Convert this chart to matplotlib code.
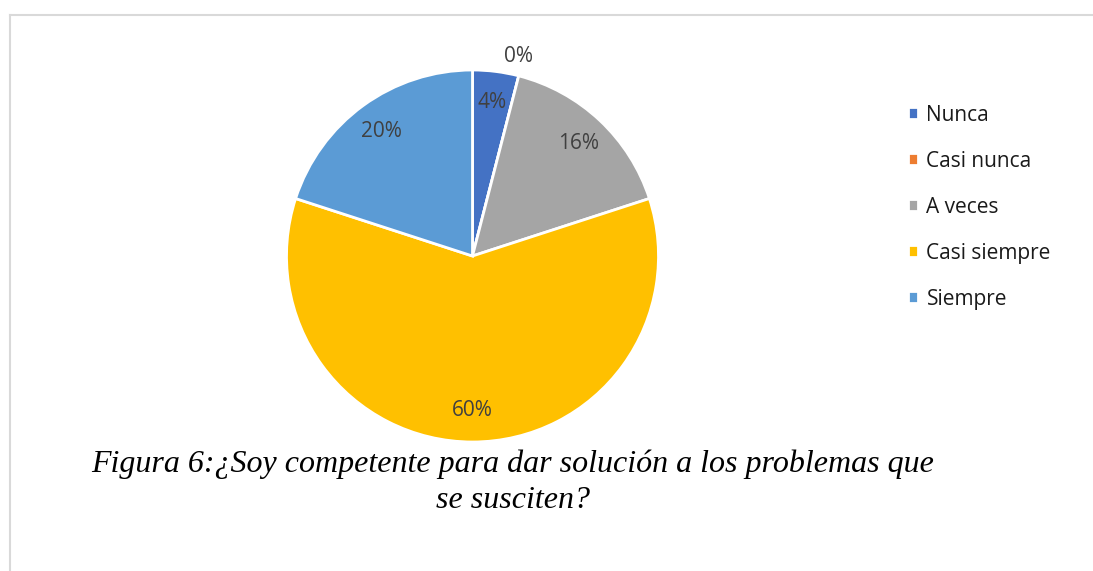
import matplotlib.pyplot as plt
import numpy as np
from matplotlib.lines import Line2D

categorias = ['Nunca', 'Casi nunca', 'A veces', 'Casi siempre', 'Siempre']
valores = [4, 0, 16, 60, 20]
colores = ['#4472C4', '#ED7D31', '#A5A5A5', '#FFC000', '#5B9BD5']
linea1 = u'Figura 6:\u00bfSoy competente para dar soluci\u00f3n a los problemas que'
linea2 = 'se susciten?'

W, H = 1093, 571
fig = plt.figure(figsize=(W / 100, H / 100), dpi=100)

# marco gris del grafico
fig.add_artist(Line2D([10 / W, 1], [1 - 15 / H, 1 - 15 / H], color='#D9D9D9', lw=1.5))
fig.add_artist(Line2D([10 / W, 10 / W], [0, 1 - 15 / H], color='#D9D9D9', lw=1.5))

cx, cy, r = 472.5, 256, 186
ax = fig.add_axes([(cx - r) / W, 1 - (cy + r) / H, 2 * r / W, 2 * r / H])

wedges, texts, autotexts = ax.pie(
    valores, colors=colores, startangle=90, counterclock=False,
    autopct='%1.0f%%', pctdistance=0.83,
    wedgeprops=dict(edgecolor='white', linewidth=2),
    textprops=dict(fontsize=15, color='#404040', family='Open Sans'))

# la etiqueta 0% va fuera del pastel
ang = np.deg2rad(77)
autotexts[1].set_position((1.1 * np.cos(ang), 1.1 * np.sin(ang)))
ax.set_xlim(-1, 1)
ax.set_ylim(-1, 1)
ax.set_aspect('equal')
for t in autotexts:
    t.set_clip_on(False)

leg = fig.legend(wedges, categorias, loc='upper left',
                 bbox_to_anchor=(889 / W, 1 - 86 / H), frameon=False,
                 handlelength=0.5, handleheight=0.5, handletextpad=0.4,
                 labelspacing=1.2, prop=dict(family='Open Sans', size=15))
for t in leg.get_texts():
    t.set_color('#1a1a1a')

fig.text(513 / W, 1 - 464 / H, linea1, ha='center', va='center',
         family='Liberation Serif', style='italic', fontsize=23, color='black')
fig.text(513 / W, 1 - 500 / H, linea2, ha='center', va='center',
         family='Liberation Serif', style='italic', fontsize=23, color='black')

fig.savefig('out.png', dpi=100)
